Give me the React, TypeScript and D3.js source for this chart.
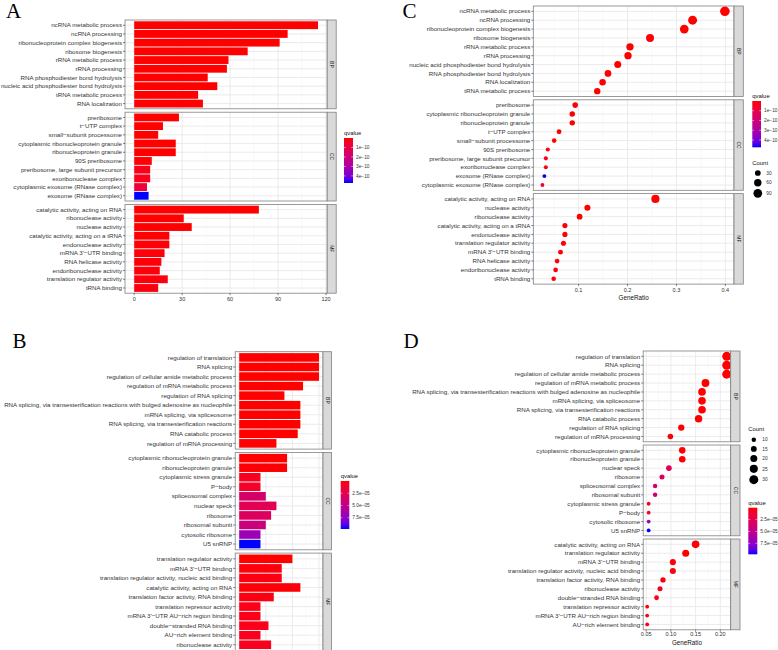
import React from "react";
import * as d3 from "d3";

// ================= Panels A & C (ordered as in panel A) =================
const bpTermsA = [
  "ncRNA metabolic process",
  "ncRNA processing",
  "ribonucleoprotein complex biogenesis",
  "ribosome biogenesis",
  "rRNA metabolic process",
  "rRNA processing",
  "RNA phosphodiester bond hydrolysis",
  "nucleic acid phosphodiester bond hydrolysis",
  "tRNA metabolic process",
  "RNA localization",
];
const bpCountA = [115, 96, 91, 71, 59, 58, 46, 52, 40, 43];
const bpRatioC = [0.399, 0.333, 0.316, 0.246, 0.205, 0.201, 0.16, 0.18, 0.138, 0.149];
const bpQvalA = [1.2e-35, 3.0e-30, 4.1e-28, 2.2e-22, 6.5e-20, 9.1e-20, 1.5e-14, 8.7e-17, 5.3e-13, 2.4e-12];

const ccTermsA = [
  "preribosome",
  "t\u2212UTP complex",
  "small\u2212subunit processome",
  "cytoplasmic ribonucleoprotein granule",
  "ribonucleoprotein granule",
  "90S preribosome",
  "preribosome, large subunit precursor",
  "exoribonuclease complex",
  "cytoplasmic exosome (RNase complex)",
  "exosome (RNase complex)",
];
const ccCountA = [28, 18, 15, 26, 26, 11, 10, 10, 8, 9];
const ccRatioC = [0.093, 0.06, 0.05, 0.087, 0.087, 0.037, 0.033, 0.033, 0.026, 0.03];
const ccQvalA = [2.1e-16, 3.3e-14, 5.6e-13, 4.4e-13, 6.1e-13, 4.2e-12, 2.2e-11, 2.6e-11, 7.5e-11, 4.75e-10];

const mfTermsA = [
  "catalytic activity, acting on RNA",
  "ribonuclease activity",
  "nuclease activity",
  "catalytic activity, acting on a tRNA",
  "endonuclease activity",
  "mRNA 3'\u2212UTR binding",
  "RNA helicase activity",
  "endoribonuclease activity",
  "translation regulator activity",
  "tRNA binding",
];
const mfCountA = [78, 31, 36, 22, 22, 19, 17, 16, 21, 15];
const mfRatioC = [0.257, 0.102, 0.118, 0.072, 0.072, 0.063, 0.056, 0.053, 0.069, 0.049];
const mfQvalA = [6.2e-27, 1.8e-13, 2.9e-15, 3.4e-12, 5.0e-12, 6.6e-12, 7.1e-12, 8.8e-12, 9.5e-12, 1.3e-11];

const qTicksAC = [1e-10, 2e-10, 3e-10, 4e-10];
const qLabelsAC = ["1e\u221210", "2e\u221210", "3e\u221210", "4e\u221210"];
const countTicksC = [30, 60, 90];
const xTicksA = [0, 30, 60, 90, 120];
const xMinorA = [15, 45, 75, 105];
const xTicksC = [0.1, 0.2, 0.3, 0.4];
const xMinorC = [0.05, 0.15, 0.25, 0.35];

// ================= Panels B & D (ordered as in panel B) =================
const bpTermsB = [
  "regulation of translation",
  "RNA splicing",
  "regulation of cellular amide metabolic process",
  "regulation of mRNA metabolic process",
  "regulation of RNA splicing",
  "RNA splicing, via transesterification reactions with bulged adenosine as nucleophile",
  "mRNA splicing, via spliceosome",
  "RNA splicing, via transesterification reactions",
  "RNA catabolic process",
  "regulation of mRNA processing",
];
const bpCountB = [30, 30, 30, 24, 17, 23, 23, 23, 22, 14];
const bpRatioD = [0.213, 0.213, 0.213, 0.17, 0.121, 0.163, 0.163, 0.163, 0.156, 0.099];
const bpQvalB = [1.1e-12, 3.4e-11, 2.0e-11, 5.5e-9, 2.1e-8, 7.3e-9, 7.3e-9, 8.1e-9, 3.9e-8, 4.6e-7];

const ccTermsB = [
  "cytoplasmic ribonucleoprotein granule",
  "ribonucleoprotein granule",
  "cytoplasmic stress granule",
  "P\u2212body",
  "spliceosomal complex",
  "nuclear speck",
  "ribosome",
  "ribosomal subunit",
  "cytosolic ribosome",
  "U5 snRNP",
];
const ccCountB = [18, 18, 8, 8, 10, 14, 12, 10, 8, 8];
const ccRatioD = [0.123, 0.123, 0.055, 0.055, 0.068, 0.096, 0.082, 0.068, 0.055, 0.055];
const ccQvalB = [4.0e-7, 6.2e-7, 6.0e-6, 9.0e-6, 3.6e-5, 2.6e-5, 3.0e-5, 4.3e-5, 6.8e-5, 9.8e-5];

const mfTermsB = [
  "translation regulator activity",
  "mRNA 3'\u2212UTR binding",
  "translation regulator activity, nucleic acid binding",
  "catalytic activity, acting on RNA",
  "translation factor activity, RNA binding",
  "translation repressor activity",
  "mRNA 3'\u2212UTR AU\u2212rich region binding",
  "double\u2212stranded RNA binding",
  "AU\u2212rich element binding",
  "ribonuclease activity",
];
const mfCountB = [20, 16, 16, 23, 13, 8, 8, 11, 8, 12];
const mfRatioD = [0.13, 0.104, 0.104, 0.15, 0.084, 0.052, 0.052, 0.071, 0.052, 0.078];
const mfQvalB = [1.5e-7, 2.3e-6, 3.0e-6, 1.2e-6, 2.8e-6, 4.1e-6, 4.5e-6, 5.2e-6, 5.0e-6, 6.0e-6];

const qTicksBD = [2.5e-5, 5.0e-5, 7.5e-5];
const qLabelsBD = ["2.5e\u221205", "5.0e\u221205", "7.5e\u221205"];
const countTicksD = [10, 15, 20, 25, 30];
const xTicksB = [0, 10, 20, 30];
const xMinorB = [5, 15, 25];
const xTicksD = [0.05, 0.1, 0.15, 0.2];
const xMinorD = [0.075, 0.125, 0.175];

const facetNames = ["BP", "CC", "MF"];

// ================= helpers =================
const FONT = "'Liberation Sans', Arial, Helvetica, sans-serif";
const TEXT = "#333333";

type Facet = { name: string; terms: string[]; counts: number[]; q: number[]; ratio: number[] };

function makeFacets(terms: string[][], counts: number[][], q: number[][], ratio: number[][]): Facet[] {
  return facetNames.map((name, i) => ({ name, terms: terms[i], counts: counts[i], q: q[i], ratio: ratio[i] }));
}

function sortByRatio(f: Facet): Facet {
  const idx = d3.range(f.terms.length).sort((a, b) => f.ratio[b] - f.ratio[a] || a - b);
  return {
    name: f.name,
    terms: idx.map((i) => f.terms[i]),
    counts: idx.map((i) => f.counts[i]),
    q: idx.map((i) => f.q[i]),
    ratio: idx.map((i) => f.ratio[i]),
  };
}

function colorScale(lo: number, hi: number) {
  return d3
    .scaleLinear<string>()
    .domain([lo, hi])
    .range(["#ff0000", "#0000ff"])
    .interpolate(d3.interpolateLab)
    .clamp(true);
}

type Spec = {
  x0: number;
  x1: number;
  stripW: number;
  tops: number[];
  height: number;
  x: d3.ScaleLinear<number, number>;
  major: number[];
  minor: number[];
  fmt: (v: number) => string;
  tickLabelY?: number;
  xTitle?: string;
  xTitleY?: number;
};

function FacetChart({
  spec,
  facets,
  mark,
}: {
  spec: Spec;
  facets: Facet[];
  mark: (f: Facet, y: d3.ScalePoint<string>) => React.ReactNode;
}) {
  const { x0, x1, stripW, tops, height, x, major, minor } = spec;
  const lastBottom = tops[tops.length - 1] + height;
  return (
    <g>
      {facets.map((f, i) => {
        const top = tops[i];
        const y = d3.scalePoint<string>().domain(f.terms).range([top, top + height]).padding(0.6);
        return (
          <g key={f.name}>
            <rect x={x0} y={top} width={x1 - x0} height={height} fill="#ffffff" />
            {minor.map((v) => (
              <line key={"mi" + v} x1={x(v)} x2={x(v)} y1={top} y2={top + height} stroke="#f3f3f3" strokeWidth={0.5} />
            ))}
            {major.map((v) => (
              <line key={"ma" + v} x1={x(v)} x2={x(v)} y1={top} y2={top + height} stroke="#e9e9e9" strokeWidth={0.9} />
            ))}
            {f.terms.map((t) => (
              <line key={"h" + t} x1={x0} x2={x1} y1={y(t)} y2={y(t)} stroke="#e9e9e9" strokeWidth={0.9} />
            ))}
            {mark(f, y)}
            <rect x={x0} y={top} width={x1 - x0} height={height} fill="none" stroke="#808080" strokeWidth={0.8} />
            <rect x={x1} y={top} width={stripW} height={height} fill="#d9d9d9" stroke="#808080" strokeWidth={0.8} />
            <text
              transform={`translate(${x1 + stripW / 2},${top + height / 2}) rotate(90)`}
              textAnchor="middle"
              dy="0.35em"
              fontSize={5}
              fill="#1a1a1a"
            >
              {f.name}
            </text>
            {f.terms.map((t) => (
              <g key={"l" + t}>
                <line x1={x0 - 2} x2={x0} y1={y(t)} y2={y(t)} stroke="#333" strokeWidth={0.6} />
                <text x={x0 - 3} y={y(t)} dy="0.35em" textAnchor="end" fontSize={6.2} fill={TEXT}>
                  {t}
                </text>
              </g>
            ))}
          </g>
        );
      })}
      {major.map((v) => (
        <g key={"xt" + v}>
          <line x1={x(v)} x2={x(v)} y1={lastBottom} y2={lastBottom + 2} stroke="#333" strokeWidth={0.6} />
          {spec.tickLabelY !== undefined && (
            <text x={x(v)} y={spec.tickLabelY} textAnchor="middle" fontSize={5.5} fill={TEXT}>
              {spec.fmt(v)}
            </text>
          )}
        </g>
      ))}
      {spec.xTitle && (
        <text x={(x0 + x1) / 2} y={spec.xTitleY} textAnchor="middle" fontSize={6.3} fill="#111">
          {spec.xTitle}
        </text>
      )}
    </g>
  );
}

function ColorBar({
  id,
  x,
  y,
  w,
  h,
  lo,
  hi,
  ticks,
  labels,
}: {
  id: string;
  x: number;
  y: number;
  w: number;
  h: number;
  lo: number;
  hi: number;
  ticks: number[];
  labels: string[];
}) {
  const s = d3.scaleLinear().domain([lo, hi]).range([y, y + h]);
  const interp = d3.interpolateLab("#ff0000", "#0000ff");
  const stops = d3.range(0, 1.0001, 0.1);
  return (
    <g>
      <defs>
        <linearGradient id={id} x1="0" y1="0" x2="0" y2="1">
          {stops.map((t) => (
            <stop key={t} offset={t} stopColor={interp(t)} />
          ))}
        </linearGradient>
      </defs>
      <text x={x} y={y - 3} fontSize={5.9} fill="#111">
        qvalue
      </text>
      <rect x={x} y={y} width={w} height={h} fill={`url(#${id})`} />
      {ticks.map((t, i) => (
        <g key={t}>
          <line x1={x} x2={x + w / 5} y1={s(t)} y2={s(t)} stroke="#fff" strokeWidth={0.5} />
          <line x1={x + w - w / 5} x2={x + w} y1={s(t)} y2={s(t)} stroke="#fff" strokeWidth={0.5} />
          <text x={x + w + 3} y={s(t)} dy="0.35em" fontSize={4.8} fill={TEXT}>
            {labels[i]}
          </text>
        </g>
      ))}
    </g>
  );
}

function SizeLegend({
  x,
  y,
  values,
  r,
}: {
  x: number;
  y: number;
  values: number[];
  r: (v: number) => number;
}) {
  const hs = values.map((v) => r(v) + 6.5);
  const ys: number[] = [];
  values.forEach((v, i) => {
    ys.push(i === 0 ? y + 8.5 : ys[i - 1] + (hs[i - 1] + hs[i]) / 2);
  });
  return (
    <g>
      <text x={x} y={y} fontSize={5.9} fill="#111">
        Count
      </text>
      {values.map((v, i) => (
        <g key={v}>
          <circle cx={x + 5.5} cy={ys[i]} r={r(v)} fill="#000" />
          <text x={x + 14} y={ys[i]} dy="0.35em" fontSize={4.8} fill={TEXT}>
            {v}
          </text>
        </g>
      ))}
    </g>
  );
}

function expand(lo: number, hi: number) {
  const e = (hi - lo) * 0.05;
  return [lo - e, hi + e];
}

export default function App() {
  // ----- data sets -----
  const facetsA = makeFacets(
    [bpTermsA, ccTermsA, mfTermsA],
    [bpCountA, ccCountA, mfCountA],
    [bpQvalA, ccQvalA, mfQvalA],
    [bpRatioC, ccRatioC, mfRatioC]
  );
  const facetsC = facetsA.map(sortByRatio);
  const facetsB = makeFacets(
    [bpTermsB, ccTermsB, mfTermsB],
    [bpCountB, ccCountB, mfCountB],
    [bpQvalB, ccQvalB, mfQvalB],
    [bpRatioD, ccRatioD, mfRatioD]
  );
  const facetsD = facetsB.map(sortByRatio);

  const allQA = [...bpQvalA, ...ccQvalA, ...mfQvalA];
  const allQB = [...bpQvalB, ...ccQvalB, ...mfQvalB];
  const qA = d3.extent(allQA) as [number, number];
  const qB = d3.extent(allQB) as [number, number];
  const colA = colorScale(qA[0], qA[1]);
  const colB = colorScale(qB[0], qB[1]);

  const allCountA = [...bpCountA, ...ccCountA, ...mfCountA];
  const allCountB = [...bpCountB, ...ccCountB, ...mfCountB];
  const allRatioC = [...bpRatioC, ...ccRatioC, ...mfRatioC];
  const allRatioD = [...bpRatioD, ...ccRatioD, ...mfRatioD];

  // ----- scales -----
  const xA = d3.scaleLinear().domain(expand(0, d3.max(allCountA)!)).range([125, 327.2]);
  const xB = d3.scaleLinear().domain(expand(0, d3.max(allCountB)!)).range([235.2, 323]);
  const xC = d3
    .scaleLinear()
    .domain(expand(d3.min(allRatioC)!, d3.max(allRatioC)!))
    .range([533.3, 734]);
  const xD = d3
    .scaleLinear()
    .domain(expand(d3.min(allRatioD)!, d3.max(allRatioD)!))
    .range([643.2, 730.7]);

  const rC = d3.scaleSqrt().domain(d3.extent(allCountA) as [number, number]).range([1.9, 4.8]);
  const rD = d3.scaleSqrt().domain(d3.extent(allCountB) as [number, number]).range([1.9, 4.5]);

  const specA: Spec = {
    x0: 125, x1: 327.2, stripW: 9, tops: [20, 112.2, 204.4], height: 88.8,
    x: xA, major: xTicksA, minor: xMinorA, fmt: (v) => String(v), tickLabelY: 300.5,
  };
  const specB: Spec = {
    x0: 235.2, x1: 323, stripW: 8.5, tops: [351.7, 452.4, 553.1], height: 97.4,
    x: xB, major: xTicksB, minor: xMinorB, fmt: (v) => String(v),
  };
  const specC: Spec = {
    x0: 533.3, x1: 734, stripW: 9.3, tops: [6, 99.8, 193.6], height: 90.5,
    x: xC, major: xTicksC, minor: xMinorC, fmt: (v) => d3.format(".1f")(v), tickLabelY: 292,
    xTitle: "GeneRatio", xTitleY: 300,
  };
  const specD: Spec = {
    x0: 643.2, x1: 730.7, stripW: 9.3, tops: [351, 445, 539], height: 90.8,
    x: xD, major: xTicksD, minor: xMinorD, fmt: (v) => d3.format(".2f")(v), tickLabelY: 636,
    xTitle: "GeneRatio", xTitleY: 645,
  };

  const bars = (x: d3.ScaleLinear<number, number>, col: (q: number) => string) =>
    (f: Facet, y: d3.ScalePoint<string>) => {
      const bw = y.step() * 0.9;
      return f.terms.map((t, i) => (
        <rect
          key={"b" + t}
          x={x(0)}
          y={y(t)! - bw / 2}
          width={x(f.counts[i]) - x(0)}
          height={bw}
          fill={col(f.q[i])}
        />
      ));
    };

  const dots = (x: d3.ScaleLinear<number, number>, col: (q: number) => string, r: (v: number) => number) =>
    (f: Facet, y: d3.ScalePoint<string>) =>
      f.terms.map((t, i) => (
        <circle key={"d" + t} cx={x(f.ratio[i])} cy={y(t)} r={r(f.counts[i])} fill={col(f.q[i])} />
      ));

  const letter = { fontFamily: "'Liberation Serif', 'Times New Roman', serif", fontSize: 21, fill: "#000" };

  return (
    <svg
      width={778}
      height={650}
      style={{ position: "absolute", left: 0, top: 0, background: "#fff", fontFamily: FONT }}
    >
      <rect x={0} y={0} width={778} height={650} fill="#fff" />
      <text x={6} y={17.5} style={letter}>A</text>
      <text x={12.5} y={348} style={letter}>B</text>
      <text x={402.5} y={17.5} style={letter}>C</text>
      <text x={403.5} y={348} style={letter}>D</text>

      <FacetChart spec={specA} facets={facetsA} mark={bars(xA, colA)} />
      <ColorBar id="gA" x={344} y={138} w={9} h={45} lo={qA[0]} hi={qA[1]} ticks={qTicksAC} labels={qLabelsAC} />

      <FacetChart spec={specB} facets={facetsB} mark={bars(xB, colB)} />
      <ColorBar id="gB" x={340.7} y={481} w={8.6} h={48} lo={qB[0]} hi={qB[1]} ticks={qTicksBD} labels={qLabelsBD} />

      <FacetChart spec={specC} facets={facetsC} mark={dots(xC, colA, rC)} />
      <ColorBar id="gC" x={752.3} y={101} w={8.7} h={46.3} lo={qA[0]} hi={qA[1]} ticks={qTicksAC} labels={qLabelsAC} />
      <SizeLegend x={752.3} y={164.5} values={countTicksC} r={rC} />

      <FacetChart spec={specD} facets={facetsD} mark={dots(xD, colB, rD)} />
      <SizeLegend x={748.3} y={431.3} values={countTicksD} r={rD} />
      <ColorBar id="gD" x={748.3} y={507.7} w={9} h={46.6} lo={qB[0]} hi={qB[1]} ticks={qTicksBD} labels={qLabelsBD} />
    </svg>
  );
}
